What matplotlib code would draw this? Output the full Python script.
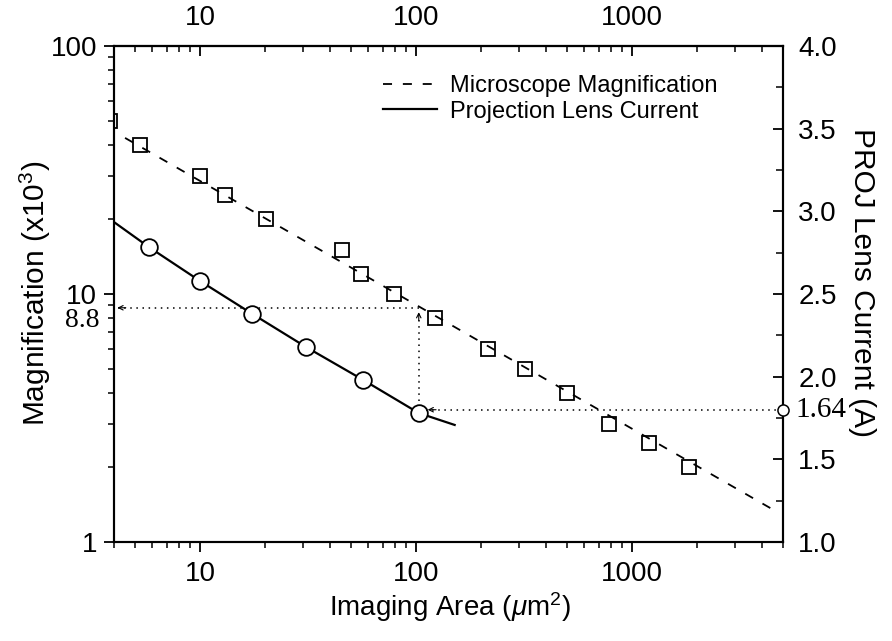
import matplotlib
matplotlib.use('Agg')
import matplotlib.pyplot as plt

plt.rcParams['font.family'] = ['Liberation Sans', 'DejaVu Sans']
plt.rcParams['mathtext.fontset'] = 'custom'
plt.rcParams['mathtext.rm'] = 'Liberation Sans'
plt.rcParams['mathtext.it'] = 'Liberation Sans:italic'

# ---- data ----
mag_area = [3.85, 5.27, 10, 13, 20.3, 45.4, 55.6, 79, 122, 215, 320, 500, 783, 1200, 1840]
mag_value = [50, 40, 30, 25, 20, 15, 12, 10, 8.0, 6.0, 5.0, 4.0, 3.0, 2.5, 2.0]
fit_area = [4.5, 4500]
fit_mag = [42.6, 1.35]

lens_area = [5.8, 10, 17.5, 31, 57, 103]
lens_current = [2.784, 2.579, 2.379, 2.179, 1.980, 1.780]
curve_area = [4, 5.8, 10, 17.5, 31, 57, 103, 151]
curve_current = [2.935, 2.784, 2.579, 2.379, 2.179, 1.980, 1.780, 1.708]

x_ticks = [10, 100, 1000]
x_labels = ['10', '100', '1000']
yl_ticks = [1, 10, 100]
yl_labels = ['1', '10', '100']
yr_ticks = [1.0, 1.5, 2.0, 2.5, 3.0, 3.5, 4.0]
yr_minor = [1.25, 1.75, 2.25, 2.75, 3.25, 3.75]

guide_area = 103
guide_mag = 8.8
guide_mag_label = '8.8'
guide_cur_level = 1.80
guide_cur_top = 2.39
guide_cur_label = '1.64'

# ---- figure ----
fig = plt.figure(figsize=(8.92, 6.41), dpi=100)
ax = fig.add_axes([114/892, 1-542/641, 669/892, 496/641])
ax.set_xscale('log')
ax.set_yscale('log')
ax.set_xlim(4, 5000)
ax.set_ylim(1, 100)
ax2 = ax.twinx()
ax2.set_ylim(1, 4)

for a in (ax, ax2):
    for s in a.spines.values():
        s.set_linewidth(1.5)

tick_fs = 20
ax.set_xticks(x_ticks)
ax.set_xticklabels(x_labels)
ax.set_yticks(yl_ticks)
ax.set_yticklabels(yl_labels)
ax.tick_params(axis='both', which='major', direction='out', length=7, width=1.3,
               labelsize=tick_fs, top=False, right=False)
ax.tick_params(axis='both', which='minor', direction='out', length=4, width=1.1,
               top=False, right=False, labelleft=False, labelbottom=False)
ax.tick_params(axis='x', which='major', pad=7)
ax.tick_params(axis='y', which='major', pad=5)

sec = ax.secondary_xaxis('top')
sec.set_xticks(x_ticks)
sec.set_xticklabels(x_labels)
sec.tick_params(which='major', direction='in', length=7, width=1.3, labelsize=tick_fs, pad=11)
sec.tick_params(which='minor', direction='in', length=4, width=1.1)
sec.spines['top'].set_linewidth(1.5)

ax2.set_yticks(yr_ticks)
ax2.set_yticklabels([f'{v:.1f}' for v in yr_ticks])
ax2.set_yticks(yr_minor, minor=True)
ax2.tick_params(axis='y', which='major', direction='in', length=7, width=1.3,
                labelsize=tick_fs, pad=11)
ax2.tick_params(axis='y', which='minor', direction='in', length=5, width=1.1)

# microscope magnification (left axis)
l1, = ax.plot(fit_area, fit_mag, color='k', lw=1.3, ls=(0, (5, 6)),
              label='Microscope Magnification')
ax.plot(mag_area, mag_value, 's', ms=10, mfc='none', mec='k', mew=1.3)

# projection lens current (right axis)
l2, = ax2.plot(curve_area, curve_current, color='k', lw=1.6,
               label='Projection Lens Current')
ax2.plot(lens_area, lens_current, 'o', ms=12, mfc='white', mec='k', mew=1.3)

# guide lines
dot = dict(color='k', lw=1.1, ls=(0, (1, 3)))
ax.plot([guide_area, 4.1], [guide_mag, guide_mag], **dot)
ax2.plot([guide_area, guide_area], [guide_cur_level + 0.05, guide_cur_top], **dot)
ax2.plot([guide_area * 1.08, 5000], [guide_cur_level, guide_cur_level], **dot)
ax2.plot([5000], [guide_cur_level], 'o', ms=8, mfc='white', mec='k', mew=1.1,
         clip_on=False, zorder=5)
arr = dict(arrowstyle='->', lw=0.8, color='k', shrinkA=0, shrinkB=0, mutation_scale=8)
ax.annotate('', xy=(4.15, guide_mag), xytext=(6, 0), textcoords='offset points', arrowprops=arr)
ax2.annotate('', xy=(guide_area, guide_cur_top), xytext=(0, -6), textcoords='offset points', arrowprops=arr)
ax2.annotate('', xy=(guide_area * 1.1, guide_cur_level), xytext=(6, 0), textcoords='offset points', arrowprops=arr)

ax.text(-0.021, guide_mag, guide_mag_label, transform=ax.get_yaxis_transform(),
        ha='right', va='top', fontsize=20, family=['Liberation Serif'])
ax2.text(1.018, guide_cur_level, guide_cur_label, transform=ax2.get_yaxis_transform(),
         ha='left', va='center', fontsize=21, family=['Liberation Serif'])

# legend
fig.legend([l1, l2], ['Microscope Magnification', 'Projection Lens Current'],
           loc='upper left', bbox_to_anchor=(383/892, 1-75/641), frameon=False,
           fontsize=17, handlelength=2.3, handletextpad=0.55, labelspacing=0.15,
           borderpad=0, borderaxespad=0)

# axis labels
fig.text(35/892, 1-293/641, 'Magnification (x10$^3$)', rotation=90,
         ha='center', va='center', fontsize=21.5)
fig.text(862/892, 1-283/641, 'PROJ Lens Current (A)', rotation=270,
         ha='center', va='center', fontsize=21.5)
fig.text(450/892, 1-607/641, 'Imaging Area ($\\mu$m$^2$)',
         ha='center', va='center', fontsize=20)

fig.savefig('out.png', dpi=100)
